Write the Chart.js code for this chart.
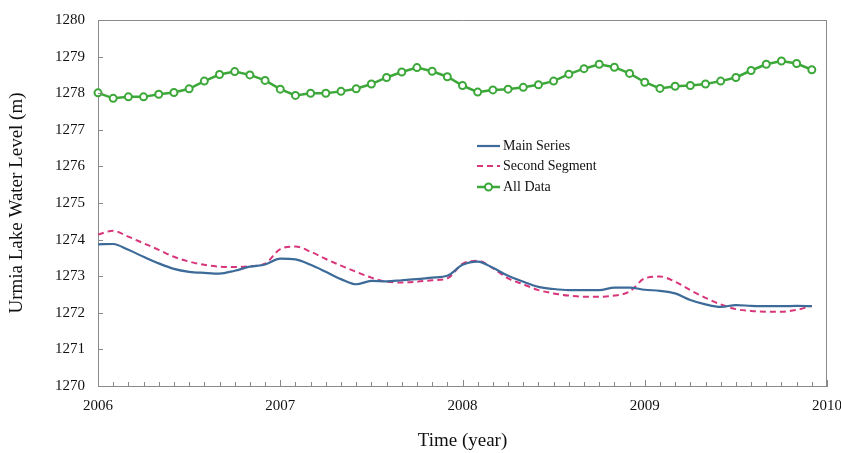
<!DOCTYPE html>
<html><head><meta charset="utf-8">
<script src="https://cdn.jsdelivr.net/npm/chart.js@4"></script>
<style>html,body{margin:0;padding:0;background:#fff}</style>
</head><body>
<canvas id="c" width="841" height="453"></canvas>
<script>
const months = [
 '2006-01','2006-02','2006-03','2006-04','2006-05','2006-06','2006-07','2006-08','2006-09','2006-10','2006-11','2006-12',
 '2007-01','2007-02','2007-03','2007-04','2007-05','2007-06','2007-07','2007-08','2007-09','2007-10','2007-11','2007-12',
 '2008-01','2008-02','2008-03','2008-04','2008-05','2008-06','2008-07','2008-08','2008-09','2008-10','2008-11','2008-12',
 '2009-01','2009-02','2009-03','2009-04','2009-05','2009-06','2009-07','2009-08','2009-09','2009-10','2009-11','2009-12',
 '2010-01'];
const yearTicks = ['2006','2007','2008','2009','2010'];
const yTicks = [1270,1271,1272,1273,1274,1275,1276,1277,1278,1279,1280];
const seriesNames = ['Main Series','Second Segment','All Data'];
const mainSeries = [
 1273.87,1273.88,1273.72,1273.53,1273.35,1273.20,1273.12,1273.09,1273.07,1273.15,1273.26,1273.32,
 1273.48,1273.46,1273.31,1273.12,1272.92,1272.78,1272.87,1272.86,1272.89,1272.92,1272.96,1273.01,
 1273.31,1273.40,1273.23,1273.01,1272.85,1272.71,1272.65,1272.62,1272.62,1272.62,1272.69,1272.69,
 1272.63,1272.60,1272.53,1272.35,1272.23,1272.16,1272.21,1272.19,1272.18,1272.18,1272.19,1272.18];
const secondSegment = [
 1274.14,1274.24,1274.08,1273.90,1273.72,1273.53,1273.40,1273.31,1273.26,1273.25,1273.27,1273.34,
 1273.74,1273.81,1273.67,1273.47,1273.29,1273.12,1272.96,1272.85,1272.83,1272.85,1272.89,1272.94,
 1273.34,1273.42,1273.22,1272.94,1272.78,1272.62,1272.53,1272.47,1272.44,1272.44,1272.47,1272.58,
 1272.94,1272.99,1272.85,1272.62,1272.41,1272.23,1272.10,1272.05,1272.03,1272.03,1272.08,1272.19];
const allData = [
 1278.01,1277.86,1277.90,1277.90,1277.97,1278.02,1278.12,1278.33,1278.51,1278.59,1278.50,1278.35,
 1278.11,1277.94,1278.00,1278.00,1278.05,1278.12,1278.25,1278.43,1278.58,1278.70,1278.60,1278.45,
 1278.21,1278.03,1278.09,1278.11,1278.16,1278.23,1278.33,1278.52,1278.67,1278.79,1278.71,1278.54,
 1278.30,1278.13,1278.19,1278.21,1278.25,1278.33,1278.43,1278.62,1278.79,1278.88,1278.81,1278.64];

const SERIF = "'Liberation Serif','Times New Roman',serif";
const AXIS = '#8a8a8a';
const BLUE = '#3D6B99', PINK = '#D8357A', GREEN = '#3DA83A';

const boxTicks = {
  id: 'boxTicks',
  afterDatasetsDraw(chart) {
    const {ctx, chartArea: a, scales: {x, y}} = chart;
    ctx.save();
    ctx.strokeStyle = AXIS;
    ctx.lineWidth = 1;
    ctx.beginPath();
    ctx.moveTo(a.left, a.top + 0.5); ctx.lineTo(a.right, a.top + 0.5);
    ctx.moveTo(a.right - 0.5, a.top); ctx.lineTo(a.right - 0.5, a.bottom);
    yTicks.forEach(v => {
      const py = Math.round(y.getPixelForValue(v)) + 0.5;
      ctx.moveTo(a.left, py); ctx.lineTo(a.left + 5, py);
    });
    months.forEach((m, i) => {
      const px = Math.round(x.getPixelForValue(i)) + 0.5;
      const major = m.endsWith('-01');
      ctx.moveTo(px, a.bottom); ctx.lineTo(px, a.bottom - (major ? 6 : 4));
    });
    ctx.stroke();
    ctx.restore();
  }
};

const legendBox = {
  id: 'legendBox',
  afterDraw(chart) {
    const ctx = chart.ctx;
    const x0 = 477, x1 = 500, rows = [146, 166, 187];
    ctx.save();
    chart.data.datasets.forEach((ds, i) => {
      const yy = rows[i];
      ctx.strokeStyle = ds.borderColor;
      ctx.lineWidth = ds.borderWidth;
      ctx.setLineDash(ds.borderDash || []);
      ctx.beginPath(); ctx.moveTo(x0, yy); ctx.lineTo(x1, yy); ctx.stroke();
      ctx.setLineDash([]);
      if (ds.pointRadius > 0) {
        ctx.beginPath(); ctx.arc((x0 + x1) / 2, yy, ds.pointRadius, 0, Math.PI * 2);
        ctx.fillStyle = '#fff'; ctx.fill();
        ctx.lineWidth = ds.pointBorderWidth; ctx.stroke();
      }
      ctx.fillStyle = '#111';
      ctx.font = '14px ' + SERIF;
      ctx.textBaseline = 'middle';
      ctx.fillText(ds.label, x1 + 3, yy);
    });
    ctx.restore();
  }
};

new Chart(document.getElementById('c'), {
  type: 'line',
  data: {
    labels: months,
    datasets: [
      {label: seriesNames[0], data: mainSeries, borderColor: BLUE, borderWidth: 2.2,
       pointRadius: 0, tension: 0.4, cubicInterpolationMode: 'monotone', fill: false},
      {label: seriesNames[1], data: secondSegment, borderColor: PINK, borderWidth: 2, borderDash: [6, 4],
       pointRadius: 0, tension: 0.4, cubicInterpolationMode: 'monotone', fill: false},
      {label: seriesNames[2], data: allData, borderColor: GREEN, borderWidth: 2.5,
       pointRadius: 3.5, pointBorderWidth: 2, pointBackgroundColor: '#fff', pointBorderColor: GREEN,
       tension: 0, fill: false}
    ]
  },
  options: {
    responsive: false,
    animation: false,
    layout: {padding: {top: 20, right: 14, left: 0, bottom: 0}},
    plugins: {legend: {display: false}, tooltip: {enabled: false}},
    scales: {
      x: {
        type: 'category', offset: false,
        grid: {display: false, drawTicks: false},
        border: {display: true, color: AXIS, width: 1},
        ticks: {
          autoSkip: false, maxRotation: 0, padding: 11, color: '#111',
          font: {family: SERIF, size: 15},
          callback: (v, i) => months[i].endsWith('-01') ? yearTicks[yearTicks.indexOf(months[i].slice(0, 4))] : ''
        },
        title: {display: true, text: 'Time (year)', color: '#111', font: {family: SERIF, size: 19},
                padding: {top: 0, bottom: 1}},
        afterFit: s => { s.height = 67; s.paddingLeft = 0; s.paddingRight = 0; }
      },
      y: {
        min: 1270, max: 1280,
        grid: {display: false, drawTicks: false},
        border: {display: true, color: AXIS, width: 1},
        afterBuildTicks: s => { s.ticks = yTicks.map(v => ({value: v})); },
        ticks: {padding: 13, color: '#111', font: {family: SERIF, size: 15},
                callback: v => String(v)},
        title: {display: true, text: 'Urmia Lake Water Level (m)', color: '#111', font: {family: SERIF, size: 19},
                padding: {top: 6, bottom: 0}},
        afterFit: s => { s.width = 98; s.paddingTop = 0; s.paddingBottom = 0; }
      }
    }
  },
  plugins: [boxTicks, legendBox]
});
</script>
</body></html>
